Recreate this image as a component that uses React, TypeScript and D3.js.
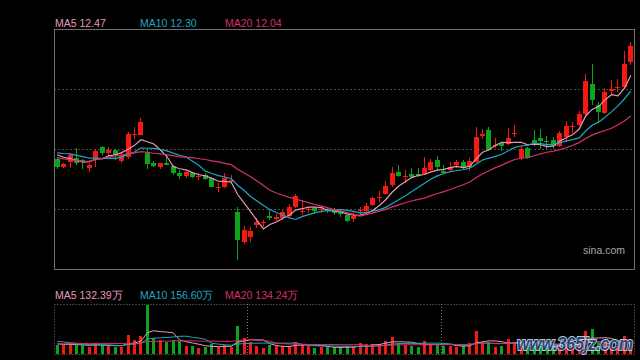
import React, { useEffect, useRef } from "react";
import * as d3 from "d3";

// daily candles, oldest first (yuan)
const opens = [
  11.59, 11.5, 11.55, 11.6, 11.58, 11.49, 11.6, 11.71, 11.65, 11.68,
  11.57, 11.61, 11.84, 11.84, 11.65, 11.54, 11.5, 11.54, 11.51, 11.44,
  11.41, 11.44, 11.4, 11.42, 11.39, 11.28, 11.29, 11.35, 11.03, 10.72,
  10.77, 10.9, 10.92, 10.99, 10.96, 10.97, 10.99, 11.09, 11.03, 11.05,
  11.08, 11.05, 11.07, 11.05, 11.03, 11.0, 10.96, 11.04, 11.04, 11.11,
  11.18, 11.22, 11.31, 11.45, 11.4, 11.43, 11.43, 11.43, 11.47, 11.58,
  11.46, 11.47, 11.52, 11.55, 11.5, 11.55, 11.83, 11.89, 11.72, 11.75,
  11.74, 11.85, 11.6, 11.7, 11.78, 11.8, 11.77, 11.78, 11.72, 11.82,
  11.92, 11.94, 12.05, 12.37, 12.15, 12.07, 12.29, 12.33, 12.34, 12.6,
];
const closes = [
  11.5, 11.53, 11.63, 11.54, 11.57, 11.52, 11.67, 11.65, 11.68, 11.63,
  11.63, 11.85, 11.85, 11.97, 11.53, 11.51, 11.54, 11.52, 11.44, 11.41,
  11.45, 11.4, 11.41, 11.38, 11.29, 11.29, 11.39, 11.37, 10.74, 10.85,
  10.84, 10.93, 10.93, 10.97, 10.98, 11.03, 11.09, 11.2, 11.04, 11.06,
  11.04, 11.06, 11.04, 11.02, 11.01, 10.94, 10.99, 11.05, 11.1, 11.18,
  11.19, 11.3, 11.44, 11.41, 11.41, 11.4, 11.41, 11.49, 11.55, 11.5,
  11.44, 11.5, 11.55, 11.49, 11.57, 11.82, 11.85, 11.68, 11.73, 11.72,
  11.8, 11.86, 11.69, 11.6, 11.75, 11.77, 11.76, 11.72, 11.86, 11.93,
  11.93, 12.05, 12.4, 12.2, 12.08, 12.28, 12.32, 12.34, 12.58, 12.76,
];
const highs = [
  11.61, 11.54, 11.65, 11.7, 11.59, 11.54, 11.69, 11.72, 11.71, 11.69,
  11.65, 11.87, 11.92, 12.01, 11.69, 11.57, 11.54, 11.64, 11.52, 11.47,
  11.46, 11.45, 11.44, 11.44, 11.4, 11.34, 11.44, 11.42, 11.09, 10.89,
  10.88, 10.97, 10.95, 11.07, 11.01, 11.05, 11.12, 11.22, 11.16, 11.09,
  11.09, 11.1, 11.09, 11.08, 11.05, 11.01, 11.03, 11.09, 11.13, 11.19,
  11.25, 11.36, 11.5, 11.52, 11.47, 11.49, 11.49, 11.61, 11.59, 11.62,
  11.52, 11.55, 11.58, 11.58, 11.6, 11.92, 11.9, 11.92, 11.8, 11.76,
  11.91, 11.94, 11.72, 11.71, 11.89, 11.9, 11.83, 11.82, 11.88, 11.98,
  11.97, 12.09, 12.47, 12.58, 12.18, 12.33, 12.41, 12.42, 12.71, 12.8,
];
const lows = [
  11.48, 11.49, 11.49, 11.52, 11.48, 11.45, 11.5, 11.63, 11.62, 11.58,
  11.54, 11.59, 11.79, 11.84, 11.48, 11.5, 11.48, 11.52, 11.42, 11.38,
  11.39, 11.39, 11.37, 11.37, 11.29, 11.24, 11.28, 11.33, 10.53, 10.7,
  10.72, 10.87, 10.88, 10.95, 10.94, 10.95, 10.98, 11.08, 11.0, 11.02,
  11.01, 11.02, 11.02, 11.0, 10.98, 10.93, 10.93, 11.01, 11.03, 11.1,
  11.14, 11.21, 11.29, 11.4, 11.34, 11.39, 11.4, 11.42, 11.46, 11.46,
  11.43, 11.45, 11.49, 11.47, 11.46, 11.54, 11.79, 11.67, 11.7, 11.67,
  11.73, 11.82, 11.58, 11.59, 11.72, 11.69, 11.69, 11.69, 11.71, 11.76,
  11.86, 11.93, 12.04, 12.15, 11.96, 12.05, 12.25, 12.28, 12.33, 12.57,
];
// volume, 万 shares
const volumes = [
  105, 97, 113, 105, 97, 75, 124, 97, 97, 75,
  75, 218, 154, 207, 557, 181, 162, 136, 162, 150,
  86, 86, 68, 75, 113, 75, 97, 75, 312, 181,
  136, 94, 68, 97, 86, 86, 86, 136, 113, 94,
  68, 75, 75, 75, 75, 86, 75, 124, 113, 113,
  113, 150, 192, 124, 105, 94, 75, 150, 113, 105,
  86, 94, 75, 86, 124, 263, 136, 136, 75, 86,
  173, 136, 130, 110, 95, 85, 80, 90, 105, 115,
  105, 130, 263, 286, 120, 120, 95, 110, 207, 130,
];

// sessions before the first visible candle, only used to start the moving averages
const earlierCloses = [
  11.8, 11.78, 11.75, 11.74, 11.45, 11.38, 11.35, 11.4, 11.42, 11.43,
  11.6, 11.66, 11.7, 11.7, 11.69, 11.66, 11.7, 11.64, 11.65,
];
const earlierVolumes = [
  80, 95, 85, 90, 100, 75, 85, 90, 95, 85,
  150, 210, 160, 175, 150, 130, 110, 120, 110,
];

const maPeriods = [5, 10, 20];
const maColors = ["#e79ab9", "#20a6c0", "#d4306a"];
const priceLegend = ["MA5 12.47", "MA10 12.30", "MA20 12.04"];
const volumeLegend = ["MA5 132.39万", "MA10 156.60万", "MA20 134.24万"];
const monthStarts = [30, 60];
const priceRange = [10.44, 12.94];
const volumeMax = 565;

const UP = "#f51a10";
const DOWN = "#0ca41a";
const FONT = "'Liberation Sans', Arial, sans-serif";

const movingAverage = (earlier: number[], values: number[], n: number) => {
  const all = earlier.concat(values);
  return values.map((_, i) => {
    const end = earlier.length + i + 1;
    return d3.mean(all.slice(end - n, end)) as number;
  });
};

const App = () => {
  const svgRef = useRef<SVGSVGElement>(null);

  useEffect(() => {
    const svg = d3.select(svgRef.current);
    svg.selectAll("*").remove();

    const w = 640;
    const h = 360;
    const left = 54;
    const right = 634;
    const top = 29;
    const bottom = 269;
    const vTop = 304;
    const vBottom = 354;

    svg.append("rect").attr("width", w).attr("height", h).attr("fill", "#000");

    const idx = d3.range(closes.length);
    const x = d3
      .scaleBand<number>()
      .domain(idx)
      .range([left, right])
      .paddingInner(0.22)
      .paddingOuter(0.11);
    const step = x.step();
    const cx = (i: number) => (x(i) as number) + x.bandwidth() / 2;

    const y = d3.scaleLinear().domain(priceRange).range([bottom, top]);
    const yv = d3.scaleLinear().domain([0, volumeMax]).range([vBottom, vTop]);

    // price grid: quarters of the price box
    const gridPrices = d3.range(1, 4).map((k) => priceRange[0] + ((priceRange[1] - priceRange[0]) * k) / 4);
    svg
      .append("g")
      .selectAll("line")
      .data(gridPrices)
      .join("line")
      .attr("x1", left)
      .attr("x2", right)
      .attr("y1", (d) => Math.round(y(d)) + 0.5)
      .attr("y2", (d) => Math.round(y(d)) + 0.5)
      .attr("stroke", "#4a4a4a")
      .attr("stroke-dasharray", "2,2");

    svg
      .append("rect")
      .attr("x", left + 0.5)
      .attr("y", top + 0.5)
      .attr("width", right - left)
      .attr("height", bottom - top)
      .attr("fill", "none")
      .attr("stroke", "#6e6e6e");

    // candles
    const candles = svg.append("g");
    idx.forEach((i) => {
      const o = opens[i];
      const c = closes[i];
      const col = c >= o ? UP : DOWN;
      const bx = Math.round(x(i) as number);
      const t = Math.round(y(Math.max(o, c)));
      const b = Math.round(y(Math.min(o, c)));
      candles
        .append("line")
        .attr("x1", bx + 2.5)
        .attr("x2", bx + 2.5)
        .attr("y1", Math.round(y(highs[i])))
        .attr("y2", Math.round(y(lows[i])))
        .attr("stroke", col);
      candles
        .append("rect")
        .attr("x", bx)
        .attr("y", t)
        .attr("width", 5)
        .attr("height", Math.max(1, b - t))
        .attr("fill", col);
    });

    // price moving averages
    maPeriods.forEach((n, k) => {
      const ma = movingAverage(earlierCloses, closes, n);
      const line = d3
        .line<number>()
        .x((_, i) => cx(i))
        .y((d) => y(d));
      svg
        .append("path")
        .attr("d", line(ma))
        .attr("fill", "none")
        .attr("stroke", maColors[k])
        .attr("stroke-width", 1.2);
    });

    // legends
    const legendX = [55, 140, 225];
    priceLegend.forEach((t, k) => {
      svg
        .append("text")
        .attr("x", legendX[k])
        .attr("y", 27)
        .attr("fill", maColors[k])
        .style("font", `10.5px ${FONT}`)
        .text(t);
    });
    volumeLegend.forEach((t, k) => {
      svg
        .append("text")
        .attr("x", legendX[k])
        .attr("y", 299)
        .attr("fill", maColors[k])
        .style("font", `10.5px ${FONT}`)
        .text(t);
    });

    svg
      .append("text")
      .attr("x", 583)
      .attr("y", 254)
      .attr("fill", "#a8a8a8")
      .style("font", `10.5px ${FONT}`)
      .text("sina.com");

    // volume panel
    svg
      .append("rect")
      .attr("x", left + 0.5)
      .attr("y", vTop + 0.5)
      .attr("width", right - left)
      .attr("height", vBottom - vTop)
      .attr("fill", "none")
      .attr("stroke", "#7a7a7a")
      .attr("stroke-dasharray", "1,2");
    svg
      .append("g")
      .selectAll("line")
      .data(monthStarts)
      .join("line")
      .attr("x1", (d) => Math.round((x(d) as number) - (step - x.bandwidth()) / 2) + 0.5)
      .attr("x2", (d) => Math.round((x(d) as number) - (step - x.bandwidth()) / 2) + 0.5)
      .attr("y1", vTop)
      .attr("y2", vBottom)
      .attr("stroke", "#7a7a7a")
      .attr("stroke-dasharray", "1,2");

    svg
      .append("g")
      .selectAll("rect")
      .data(idx)
      .join("rect")
      .attr("x", (i) => Math.round(cx(i) - 1.5))
      .attr("y", (i) => Math.round(yv(volumes[i])))
      .attr("width", 3)
      .attr("height", (i) => vBottom - Math.round(yv(volumes[i])))
      .attr("fill", (i) => (closes[i] >= opens[i] ? UP : DOWN));

    maPeriods.forEach((n, k) => {
      const ma = movingAverage(earlierVolumes, volumes, n);
      const line = d3
        .line<number>()
        .x((_, i) => cx(i))
        .y((d) => yv(d));
      svg
        .append("path")
        .attr("d", line(ma))
        .attr("fill", "none")
        .attr("stroke", maColors[k])
        .attr("stroke-width", 1);
    });

    // site watermark over the volume panel
    svg
      .append("text")
      .attr("x", 517)
      .attr("y", 350)
      .attr("textLength", 116)
      .attr("lengthAdjust", "spacingAndGlyphs")
      .attr("fill", "#27497c")
      .attr("stroke", "#c9d6ec")
      .attr("stroke-width", 2)
      .attr("paint-order", "stroke")
      .attr("opacity", 0.9)
      .style("font", `italic bold 18px ${FONT}`)
      .text("www.365jz.com");
  }, []);

  return (
    <svg
      ref={svgRef}
      width={640}
      height={360}
      style={{ position: "absolute", left: 0, top: 0, display: "block" }}
    ></svg>
  );
};

export default App;
